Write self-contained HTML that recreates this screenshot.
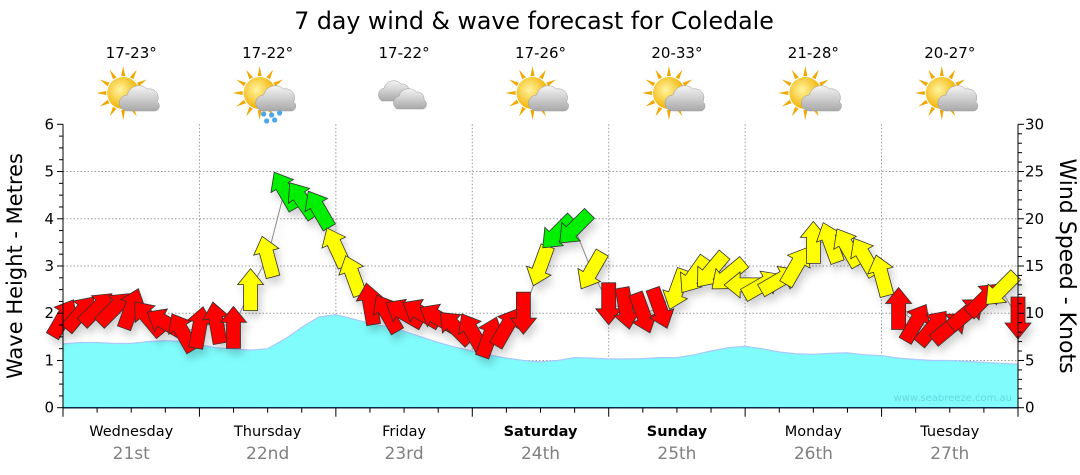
<!DOCTYPE html>
<html><head><meta charset="utf-8">
<style>
html,body{margin:0;padding:0;background:#fff;width:1080px;height:475px;overflow:hidden}
svg{display:block;font-family:"DejaVu Sans","Liberation Sans",sans-serif}
</style></head>
<body>
<svg id="chart" width="1080" height="475" viewBox="0 0 1080 475" xmlns="http://www.w3.org/2000/svg">
<defs>
<radialGradient id="sunG" cx="0.4" cy="0.4" r="0.6"><stop offset="0" stop-color="#fff6a0"/><stop offset="1" stop-color="#f2b000"/></radialGradient>
<linearGradient id="cloudG" x1="0" y1="0" x2="0" y2="1"><stop offset="0" stop-color="#f4f4f4"/><stop offset="1" stop-color="#a8a8a8"/></linearGradient>
<filter id="shadow" x="-20%" y="-20%" width="140%" height="160%"><feDropShadow dx="3" dy="6" stdDeviation="4" flood-color="#000" flood-opacity="0.18"/></filter>
</defs>
<text x="534" y="29" font-size="23.7" text-anchor="middle" fill="#000">7 day wind &amp; wave forecast for Coledale</text>
<g id="topg"></g>
<g id="grid"></g>
<g id="waves"></g>
<g id="wind" filter="url(#shadow)"></g>
<g id="axes"></g>
<text x="1012" y="401" font-size="10" text-anchor="end" fill="#5fd0d8" opacity="0.8">www.seabreeze.com.au</text>
<text transform="translate(22,266) rotate(-90)" font-size="21" text-anchor="middle" fill="#000">Wave Height - Metres</text>
<text transform="translate(1060,266) rotate(90)" font-size="22" text-anchor="middle" fill="#000">Wind Speed - Knots</text>
</svg>
<script>
const days = ["Wednesday","Thursday","Friday","Saturday","Sunday","Monday","Tuesday"];
const dates = ["21st","22nd","23rd","24th","25th","26th","27th"];
const boldDays = [false,false,false,true,true,false,false];
const temps = ["17-23°","17-22°","17-22°","17-26°","20-33°","21-28°","20-27°"];
const icons = ["sun-cloud","sun-rain","cloud","sun-cloud","sun-cloud","sun-cloud","sun-cloud"];
const waveTicks = [0,1,2,3,4,5,6];
const windTicks = [0,5,10,15,20,25,30];
// 3-hourly wave height (m)
const waveHeight = [1.35,1.38,1.38,1.36,1.36,1.40,1.42,1.40,1.33,
 1.27,1.24,1.22,1.25,1.45,1.70,1.92,1.97,
 1.88,1.78,1.72,1.62,1.50,1.38,1.28,1.20,
 1.12,1.05,1.00,0.97,1.00,1.06,1.05,1.03,
 1.03,1.04,1.06,1.06,1.12,1.20,1.27,1.30,
 1.25,1.18,1.14,1.13,1.15,1.16,1.12,1.10,
 1.05,1.02,1.00,1.00,0.98,0.96,0.94,0.92];
// 3-hourly wind speed (knots)
const windSpeed = [9.5,10,10.5,10.5,10.5,9.5,9,8,8.5,
 9,8.5,12.5,16,23,22,21,17,
 14,11,10,10,10,9.5,8.5,8,
 7.5,8.5,10,15,18.5,19,14.5,11,
 10.5,10,10.5,12.5,14,14.5,14,13,
 13,13.5,15,17.5,17.5,17,16,14,
 10.5,9,8.5,8.5,10,11.5,12.5,9.5];
// direction arrow points to (deg, 0=up, clockwise)
const windDir = [30,40,45,45,20,320,300,330,10,
 350,0,0,345,330,325,330,335,
 340,350,330,300,300,300,315,330,
 20,30,180,200,225,225,210,180,
 170,160,160,200,215,220,230,270,
 60,60,30,0,340,330,330,345,
 0,30,40,50,50,45,225,180];

const NS="http://www.w3.org/2000/svg";
const X0=63,X1=1018,Y0=407.7,Y1=124.3;
const nSteps=56;
const xAt=i=>X0+(X1-X0)*i/nSteps;
const yWave=v=>Y0-(Y0-Y1)*v/6;
const yWind=v=>Y0-(Y0-Y1)*v/30;
const dayW=(X1-X0)/7;
function mk(tag,attrs,parent){const e=document.createElementNS(NS,tag);for(const k in attrs)e.setAttribute(k,attrs[k]);parent.appendChild(e);return e;}
const topG=document.getElementById('topg'),gridG=document.getElementById('grid'),wavesG=document.getElementById('waves'),windG=document.getElementById('wind'),axesG=document.getElementById('axes');

waveTicks.forEach(t=>{if(t>0&&t<6){const l=mk('line',{x1:X0,x2:X1,y1:yWave(t),y2:yWave(t),stroke:'#999','stroke-dasharray':'1.5,2','stroke-width':1},gridG);

}});
for(let d=1;d<7;d++){const x=X0+d*dayW;const l=mk('line',{x1:x,x2:x,y1:Y1,y2:Y0,stroke:'#999','stroke-dasharray':'1.5,2','stroke-width':1},gridG);

}

let wd='M'+X0+','+Y0;
waveHeight.forEach((v,i)=>{wd+=' L'+xAt(i).toFixed(1)+','+yWave(v).toFixed(1);});
wd+=' L'+X1+','+Y0+' Z';
const wa=mk('path',{d:wd,fill:'#80fcfc',stroke:'#a8c8ff','stroke-width':1.2},wavesG);



let wl='';
windSpeed.forEach((v,i)=>{wl+=(i?' L':'M')+xAt(i).toFixed(1)+','+yWind(v).toFixed(1);});
const wline=mk('path',{d:wl,fill:'none',stroke:'#888','stroke-width':1},windG);


const arrowPath='M0,-21 L13,-5 L7,-5 L7,21 L-7,21 L-7,-5 L-13,-5 Z';
windSpeed.forEach((v,i)=>{
  const c=v>=18?'#00ee00':(v>=12?'#ffff00':'#ff0000');
  const a=mk('path',{d:arrowPath,fill:c,stroke:'#333','stroke-width':0.8,transform:'translate('+xAt(i).toFixed(1)+','+yWind(v).toFixed(1)+') rotate('+windDir[i]+')'},windG);
  
  
});

const ax=mk('line',{x1:X0,x2:X1,y1:Y0,y2:Y0,stroke:'#0a2a4a','stroke-width':1.5},axesG);


const la=mk('line',{x1:X0,x2:X0,y1:Y1,y2:Y0,stroke:'#000','stroke-width':1},axesG);


const ra=mk('line',{x1:X1,x2:X1,y1:Y1,y2:Y0,stroke:'#000','stroke-width':1},axesG);


for(let k=0;k<=24;k++){const y=Y0-(Y0-Y1)*k/24;mk('line',{x1:X0-(k%4==0?6:4),x2:X0,y1:y,y2:y,stroke:'#000'},axesG);}
for(let k=0;k<=30;k++){const y=Y0-(Y0-Y1)*k/30;mk('line',{x1:X1,x2:X1+(k%5==0?6:4),y1:y,y2:y,stroke:'#000'},axesG);}
waveTicks.forEach(t=>{const e=mk('text',{x:X0-9,y:yWave(t)+5,'font-size':15,'text-anchor':'end',fill:'#000'},axesG);e.textContent=t;

});
windTicks.forEach(t=>{const e=mk('text',{x:X1+7,y:yWind(t)+5,'font-size':15,'text-anchor':'start',fill:'#000'},axesG);e.textContent=t;

});
for(let k=0;k<=28;k++){const x=X0+dayW*k/4;mk('line',{x1:x,x2:x,y1:Y0,y2:Y0+(k%4==0?9:5),stroke:'#000'},axesG);}
days.forEach((dn,i)=>{const cx=X0+dayW*(i+0.5);
 const t=mk('text',{x:cx,y:436,'font-size':14.5,'text-anchor':'middle',fill:'#000','font-weight':boldDays[i]?'bold':'normal'},axesG);t.textContent=dn;
 
 
 const t2=mk('text',{x:cx,y:459,'font-size':17,'text-anchor':'middle',fill:'#808080'},axesG);t2.textContent=dates[i];
 
 
 const t3=mk('text',{x:cx,y:58,'font-size':15,'text-anchor':'middle',fill:'#000'},topG);t3.textContent=temps[i];
 
 
 const g=mk('g',{transform:'translate('+cx+',95)'},topG);
 
 
 if(icons[i]!=='cloud'){
  for(let r=0;r<12;r++){mk('path',{d:'M-2,-17 L0,-27 L2,-17 Z',fill:'#f0a800',transform:'translate(-8,-2) rotate('+r*30+')'},g);}
  mk('circle',{cx:-8,cy:-2,r:16,fill:'url(#sunG)'},g);
  mk('path',{d:'M-4,16 a8,8 0 0 1 0,-16 a12,12 0 0 1 20,-6 a9,9 0 0 1 10,13 a5,5 0 0 1 -2,9 Z',fill:'url(#cloudG)',stroke:'#999','stroke-width':0.5},g);
  if(icons[i]==='sun-rain'){[[-4,19],[4,20],[12,18],[-1,26],[7,25]].forEach(p=>mk('circle',{cx:p[0],cy:p[1],r:2.6,fill:'#4aa8e8'},g));}
 } else {
  mk('path',{d:'M-22,6 a7,7 0 0 1 2,-13 a10,10 0 0 1 17,-4 a7,7 0 0 1 8,8 a5,5 0 0 1 -1,9 Z',fill:'url(#cloudG)',stroke:'#999','stroke-width':0.5},g);
  mk('path',{d:'M-7,14 a7,7 0 0 1 2,-13 a10,10 0 0 1 17,-4 a7,7 0 0 1 8,8 a5,5 0 0 1 -1,9 Z',fill:'url(#cloudG)',stroke:'#999','stroke-width':0.5},g);
 }
});
</script>
</body></html>
